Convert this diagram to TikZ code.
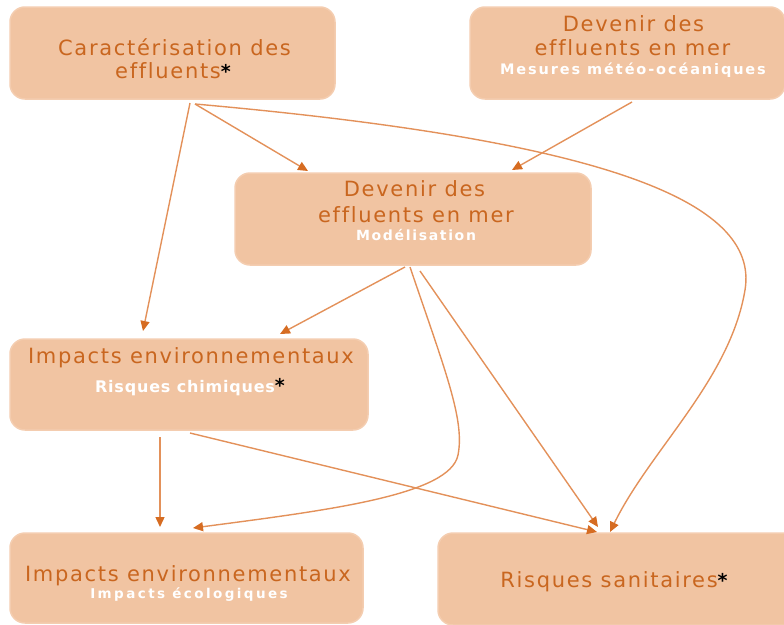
\documentclass[tikz,border=0pt]{standalone}
\usepackage{fontspec}
\usetikzlibrary{arrows.meta}
\newfontfamily\ttlfont{DejaVu Sans}[LetterSpace=8,Ligatures=NoCommon]
\newfontfamily\subfont{DejaVu Sans}[Ligatures=NoCommon]
\newfontfamily\astfont{DejaVu Sans}
\definecolor{boxfill}{HTML}{F1C4A2}
\definecolor{boxline}{HTML}{F4CDB0}
\definecolor{ttlcol}{HTML}{C9661F}
\definecolor{linecol}{HTML}{E3915A}
\definecolor{headcol}{HTML}{D66C22}
\tikzset{
  box/.style={draw=boxline, line width=1.5pt, fill=boxfill, rounded corners=15pt, inner sep=0pt, outer sep=0pt},
  ttl/.style={anchor=base, inner sep=0pt, text=ttlcol, font=\ttlfont\fontsize{21}{24}\selectfont},
  sub/.style 2 args={anchor=base, inner sep=0pt, text=white, font=\subfont\bfseries\fontsize{#1}{#1}\selectfont\addfontfeature{LetterSpace=#2}},
  conn/.style={draw=linecol, line width=1.4pt, -{Triangle[length=10pt,width=9pt,color=headcol]}},
}
\newcommand{\astmark}{{\astfont\bfseries\fontsize{19}{24}\selectfont\color{black}*}}
\begin{document}
\begin{tikzpicture}[x=1pt,y=-1pt]
\useasboundingbox (0,0) rectangle (784,624);
\clip (0,0) rectangle (784,624);
% boxes
\node[box, minimum width=325pt, minimum height=92pt] (car) at (172.5,53) {};
\node[box, minimum width=315pt, minimum height=92pt] (mes) at (627.5,53) {};
\node[box, minimum width=356pt, minimum height=92pt] (mod) at (413,219) {};
\node[box, minimum width=358pt, minimum height=91pt] (chi) at (189,384.5) {};
\node[box, minimum width=353pt, minimum height=90pt] (eco) at (186.5,578) {};
\node[box, minimum width=362pt, minimum height=92pt] (san) at (619,579) {};
% texts
\node[ttl] (car1) at (174.5,55) {Caractérisation des};
\node[ttl] (car2) at (173,78) {effluents\astmark};
\node[ttl] (mes1) at (633.5,31) {Devenir des};
\node[ttl] (mes2) at (632.5,55) {effluents en mer};
\node[sub={14.5}{13}] (mes3) at (633,74) {Mesures météo-océaniques};
\node[ttl] (mod1) at (414.5,196) {Devenir des};
\node[ttl] (mod2) at (416,222) {effluents en mer};
\node[sub={14}{12}] (mod3) at (416,240) {Modélisation};
\node[ttl] (chi1) at (191,363) {Impacts environnementaux};
\node[sub={16}{5}] (chi2) at (190,392) {Risques chimiques\astmark};
\node[ttl] (eco1) at (188,581) {Impacts environnementaux};
\node[sub={13.5}{18}] (eco2) at (189,598) {Impacts écologiques};
\node[ttl] (san1) at (614,587) {Risques sanitaires\astmark};
% connectors
\draw[conn] ([xshift=17.5pt,yshift=-4pt]car.south) -- ([xshift=-46pt,yshift=8pt]chi.north);
\draw[conn] ([xshift=22.5pt,yshift=-5pt]car.south) -- ([xshift=-105pt,yshift=2pt]mod.north);
\draw[conn] ([xshift=22.5pt,yshift=-5pt]car.south) .. controls (600,140) and (760,200) .. (745,290)
  .. controls (730,380) and (650,450) .. ([xshift=-9pt,yshift=1pt]san.north);
\draw[conn] ([xshift=4.5pt,yshift=-3pt]mes.south) -- ([xshift=99pt,yshift=3pt]mod.north);
\draw[conn] ([xshift=-8pt,yshift=-2pt]mod.south) -- ([xshift=91pt,yshift=5pt]chi.north);
\draw[conn] ([xshift=-3pt,yshift=-2pt]mod.south) .. controls (445,370) and (465,420) .. (458,455)
  .. controls (450,495) and (330,510) .. ([xshift=6.5pt,yshift=5pt]eco.north);
\draw[conn] ([xshift=7pt,yshift=-6pt]mod.south) -- ([xshift=-21pt,yshift=6pt]san.north);
\draw[conn] ([xshift=-29pt,yshift=-7pt]chi.south) -- ([xshift=-26.5pt,yshift=6pt]eco.north);
\draw[conn] ([xshift=1pt,yshift=-3pt]chi.south) -- ([xshift=-22pt,yshift=1pt]san.north);
\end{tikzpicture}
\end{document}
